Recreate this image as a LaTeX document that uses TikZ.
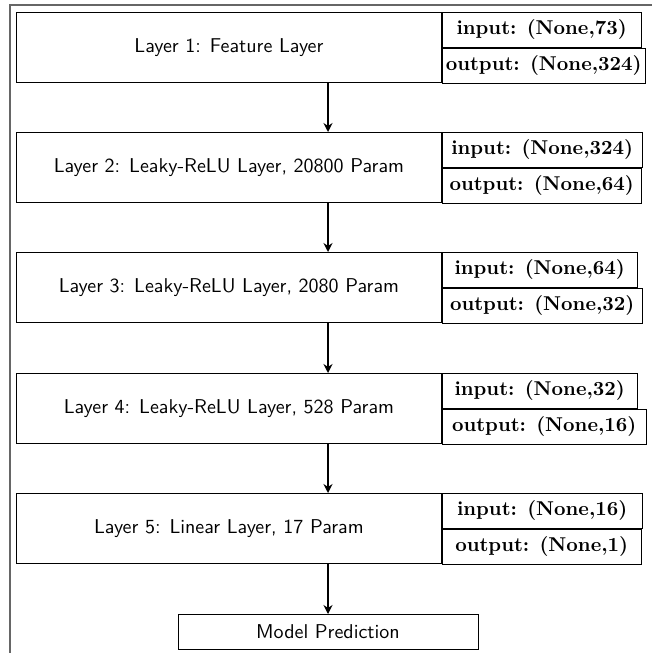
\documentclass[tikz,border=0pt]{standalone}
\usetikzlibrary{calc,arrows.meta}
\begin{document}
\begin{tikzpicture}[x=1pt,y=1pt,
  mainbox/.style={draw, anchor=north west, minimum width=212.5pt, minimum height=35pt, inner sep=0pt, font=\sffamily},
  iobox/.style={draw, anchor=north west, minimum height=17.5pt, inner sep=0pt, font=\bfseries},
  flow/.style={line width=1pt, -{Stealth[length=4.5pt, width=4.5pt]}},
  frameline/.style={draw=gray!80!black, line width=1pt}
]
\useasboundingbox (0,0) rectangle (326,-326.5);
\draw[frameline] (5,-326.5) -- (5,-2.5) -- (326,-2.5);

\node[mainbox] (m1) at (8,-6) {Layer 1: Feature Layer};
\node[iobox, minimum width=99.5pt] (i1) at (m1.north east) {input: (None,73)};
\node[iobox, minimum width=101.5pt] (o1) at (i1.south west) {output: (None,324)};

\node[mainbox] (m2) at (8,-66) {Layer 2: Leaky-ReLU Layer, 20800 Param};
\node[iobox, minimum width=100pt] (i2) at (m2.north east) {input: (None,324)};
\node[iobox, minimum width=99.5pt] (o2) at (i2.south west) {output: (None,64)};

\node[mainbox] (m3) at (8,-126) {Layer 3: Leaky-ReLU Layer, 2080 Param};
\node[iobox, minimum width=97.5pt] (i3) at (m3.north east) {input: (None,64)};
\node[iobox, minimum width=100pt] (o3) at (i3.south west) {output: (None,32)};

\node[mainbox] (m4) at (8,-186.5) {Layer 4: Leaky-ReLU Layer, 528 Param};
\node[iobox, minimum width=97.5pt] (i4) at (m4.north east) {input: (None,32)};
\node[iobox, minimum width=102pt] (o4) at (i4.south west) {output: (None,16)};

\node[mainbox] (m5) at (8,-246.5) {Layer 5: Linear Layer, 17 Param};
\node[iobox, minimum width=100pt] (i5) at (m5.north east) {input: (None,16)};
\node[iobox, minimum width=99.5pt] (o5) at (i5.south west) {output: (None,1)};

\node[draw, anchor=north, minimum width=150pt, minimum height=17.5pt, inner sep=0pt, font=\sffamily] (mp) at (164,-307) {Model Prediction};

\draw[flow] (m1.south -| mp.north) -- (m2.north -| mp.north);
\draw[flow] (m2.south -| mp.north) -- (m3.north -| mp.north);
\draw[flow] (m3.south -| mp.north) -- (m4.north -| mp.north);
\draw[flow] (m4.south -| mp.north) -- (m5.north -| mp.north);
\draw[flow] (m5.south -| mp.north) -- (mp.north);
\end{tikzpicture}
\end{document}
